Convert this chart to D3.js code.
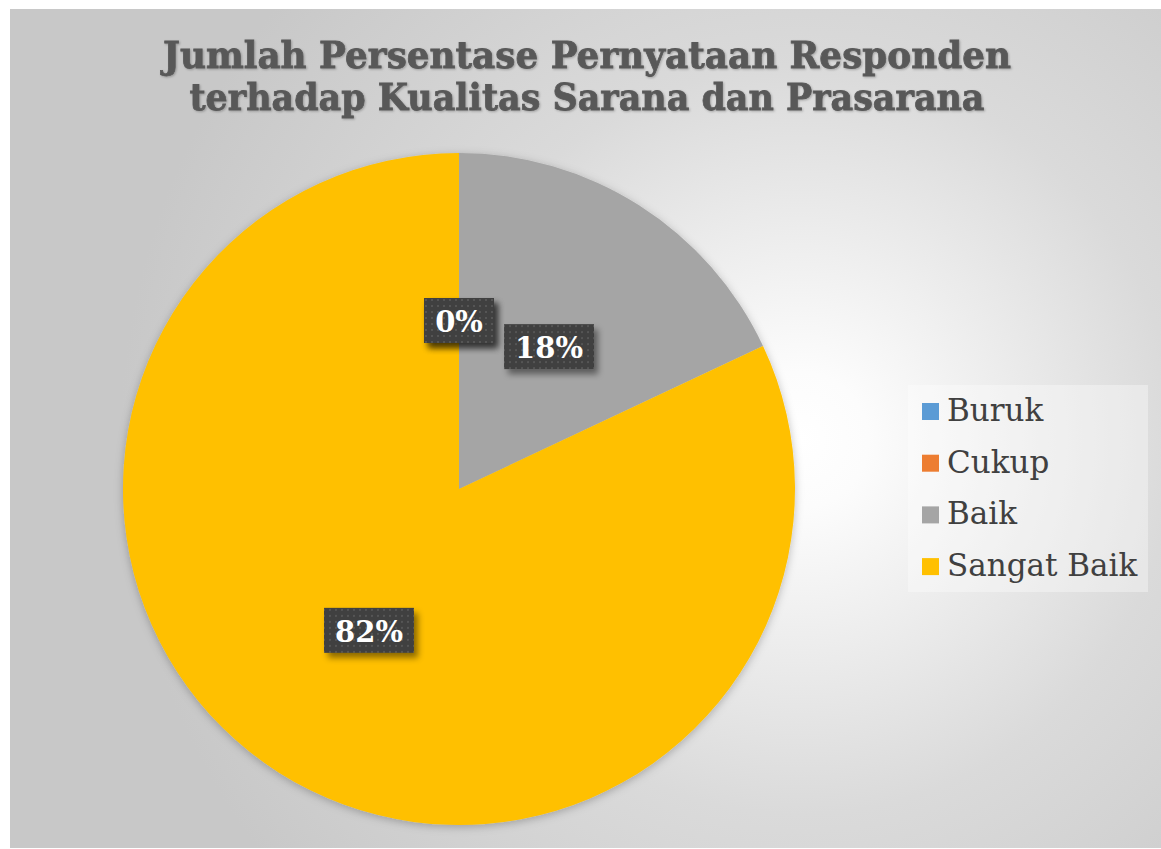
<!DOCTYPE html>
<html>
<head>
<meta charset="utf-8">
<script src="https://cdn.jsdelivr.net/npm/d3@7"></script>
<style>
  html, body { margin: 0; padding: 0; background: #fff; }
  svg { display: block; }
</style>
</head>
<body>
<script>
// data
const categories = ['Buruk', 'Cukup', 'Baik', 'Sangat Baik'];
const values = [0, 0, 18, 82];
const sliceColors = ['#5B9BD5', '#ED7D31', '#A5A5A5', '#FFC000'];
const titleLines = ['Jumlah Persentase Pernyataan Responden', 'terhadap Kualitas Sarana dan Prasarana'];

const width = 1161, height = 849;

const svg = d3.select('body').append('svg')
    .attr('width', width)
    .attr('height', height);

const defs = svg.append('defs');

// background gradient, light near the right of the pie
const bg = defs.append('radialGradient')
    .attr('id', 'bg')
    .attr('gradientUnits', 'userSpaceOnUse')
    .attr('cx', 800).attr('cy', 440).attr('r', 680);
bg.append('stop').attr('offset', 0).attr('stop-color', '#ffffff');
bg.append('stop').attr('offset', 0.1).attr('stop-color', '#fcfcfc');
bg.append('stop').attr('offset', 0.55).attr('stop-color', '#dadada');
bg.append('stop').attr('offset', 1).attr('stop-color', '#c8c8c8');

// dotted fill for the label boxes
const dots = defs.append('pattern')
    .attr('id', 'dots')
    .attr('patternUnits', 'userSpaceOnUse')
    .attr('width', 6).attr('height', 6);
dots.append('rect').attr('width', 6).attr('height', 6).attr('fill', '#3f3f3f');
dots.append('rect').attr('x', 2).attr('y', 2).attr('width', 2).attr('height', 2).attr('fill', '#555555');

const boxShadow = defs.append('filter').attr('id', 'boxShadow')
    .attr('x', '-20%').attr('y', '-20%').attr('width', '150%').attr('height', '160%');
boxShadow.append('feDropShadow')
    .attr('dx', 4).attr('dy', 5).attr('stdDeviation', 3)
    .attr('flood-color', '#000').attr('flood-opacity', 0.45);

const pieShadow = defs.append('filter').attr('id', 'pieShadow')
    .attr('x', '-10%').attr('y', '-10%').attr('width', '120%').attr('height', '120%');
pieShadow.append('feDropShadow')
    .attr('dx', 0).attr('dy', 2).attr('stdDeviation', 4)
    .attr('flood-color', '#000').attr('flood-opacity', 0.25);

const titleShadow = defs.append('filter').attr('id', 'titleShadow');
titleShadow.append('feDropShadow')
    .attr('dx', 1).attr('dy', 1).attr('stdDeviation', 1)
    .attr('flood-color', '#000').attr('flood-opacity', 0.25);

// chart panel
svg.append('rect')
    .attr('x', 10).attr('y', 9)
    .attr('width', width - 10).attr('height', 839)
    .attr('fill', 'url(#bg)');

// title (a thin stroke to get the heavier look of the original face)
const titleWidths = [848, 795];
svg.append('g')
    .attr('filter', 'url(#titleShadow)')
    .selectAll('text')
    .data(titleLines)
    .enter().append('text')
    .attr('x', 587)
    .attr('y', (d, i) => 68 + i * 42)
    .attr('text-anchor', 'middle')
    .attr('font-family', '"DejaVu Serif", serif')
    .attr('font-weight', 'bold')
    .attr('font-size', 37)
    .attr('fill', '#595959')
    .attr('stroke', '#595959')
    .attr('stroke-width', 0.8)
    .attr('textLength', (d, i) => titleWidths[i])
    .attr('lengthAdjust', 'spacingAndGlyphs')
    .text(d => d);

// pie
const cx = 459, cy = 489, radius = 336;

const pie = d3.pie().sort(null).value(d => d.value);
const arcs = pie(categories.map((c, i) => ({ name: c, value: values[i], color: sliceColors[i] })));

const arc = d3.arc().innerRadius(0).outerRadius(radius);
const labelArc = d3.arc().innerRadius(radius * 0.5).outerRadius(radius * 0.5);

const pieG = svg.append('g').attr('transform', `translate(${cx},${cy})`);

pieG.append('g')
    .attr('filter', 'url(#pieShadow)')
    .selectAll('path')
    .data(arcs)
    .enter().append('path')
    .attr('d', arc)
    .attr('fill', d => d.data.color);

// data labels
const labels = pieG.append('g')
    .selectAll('g')
    .data(arcs)
    .enter().append('g')
    .attr('transform', d => `translate(${labelArc.centroid(d)})`);

labels.each(function(d) {
    const g = d3.select(this);
    const box = g.append('rect')
        .attr('fill', 'url(#dots)')
        .attr('filter', 'url(#boxShadow)');
    const t = g.append('text')
        .attr('text-anchor', 'middle')
        .attr('dy', '0.37em')
        .attr('font-family', '"DejaVu Serif", serif')
        .attr('font-weight', 'bold')
        .attr('font-size', 29)
        .attr('fill', '#ffffff')
        .text(d.data.value + '%');
    const w = t.node().getComputedTextLength() + 22;
    box.attr('x', -w / 2).attr('y', -23).attr('width', w).attr('height', 45);
});

// legend
const legend = svg.append('g');
legend.append('rect')
    .attr('x', 908).attr('y', 385)
    .attr('width', 240).attr('height', 207)
    .attr('fill', '#ffffff').attr('fill-opacity', 0.35);

const items = legend.selectAll('g.item')
    .data(arcs)
    .enter().append('g')
    .attr('class', 'item')
    .attr('transform', (d, i) => `translate(922,${403 + i * 51.7})`);

items.append('rect')
    .attr('width', 17).attr('height', 17)
    .attr('fill', d => d.data.color);

items.append('text')
    .attr('x', 25).attr('y', 18)
    .attr('font-family', '"DejaVu Serif", serif')
    .attr('font-size', 31)
    .attr('fill', '#404040')
    .text(d => d.data.name);
</script>
</body>
</html>
